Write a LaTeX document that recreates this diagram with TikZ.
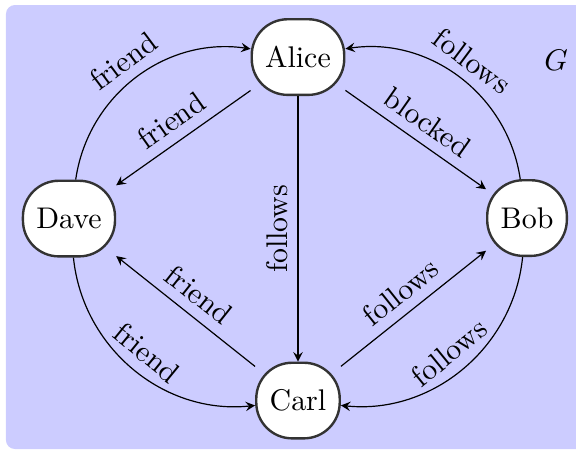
\documentclass[tikz,border=0pt]{standalone}
\usepackage{amsmath}
\usepackage{tikz}
\usepackage{color}
\definecolor{lavender}{rgb}{0.8, 0.8, 1}

\begin{document}
\begin{tikzpicture}[
    person/.style={draw=black!80, thick, fill=white, rounded corners=12pt,
                   minimum height=25.3pt, inner xsep=4.5pt},
    rel/.style={->, >=stealth},
    bend angle=45]
  % keeps the size of the picture
  \useasboundingbox (0,0) rectangle (6.773,5.292);

  % draws the background
  \fill[lavender, rounded corners=3pt] (0.07,0.012) rectangle (6.9,5.233);

  % draws the people
  \node[person] (alice) at (3.504,4.621) {Alice};
  \node[person] (dave) at (0.811,2.722) {Dave};
  \node[person] (bob) at (6.197,2.728) {Bob};
  \node[person] (carl) at (3.504,0.582) {Carl};
  \node (g) at (6.538,4.586) {$G$};

  % draws the relations
  \draw[rel] (alice) -- node[above, sloped] {friend} (dave);
  \draw[rel] (dave) to[bend left] node[above, sloped] {friend} (alice);
  \draw[rel] (alice) -- node[above, sloped] {blocked} (bob);
  \draw[rel] (bob) to[bend right] node[above, sloped] {follows} (alice);
  \draw[rel, <-] (carl) -- node[above, sloped] {follows} (alice);
  \draw[rel] (carl) -- node[above, sloped] {follows} (bob);
  \draw[rel] (bob) to[bend left] node[above, sloped] {follows} (carl);
  \draw[rel] (carl) -- node[above, sloped] {friend} (dave);
  \draw[rel] (dave) to[bend right] node[above, sloped] {friend} (carl);
\end{tikzpicture}
\end{document}
